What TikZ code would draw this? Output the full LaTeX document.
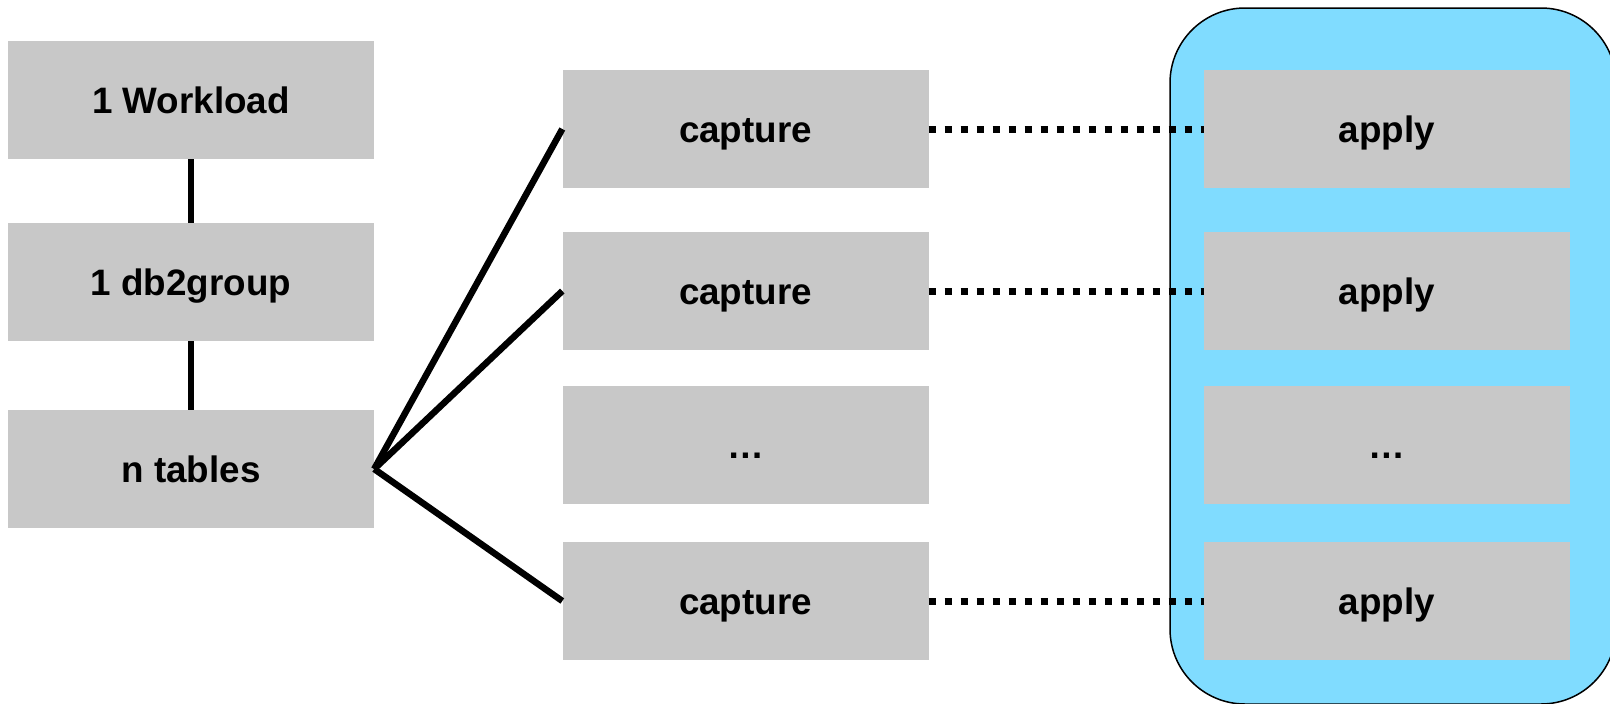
\documentclass[tikz,border=0pt]{standalone}
\usepackage{fontspec}
\setmainfont{Liberation Sans}
\usepackage{xcolor}
\usetikzlibrary{positioning}

\definecolor{boxgray}{HTML}{C8C8C8}
\definecolor{poolblue}{HTML}{80DCFF}

\tikzset{
  graybox/.style={fill=boxgray, minimum width=366pt, minimum height=118pt, inner sep=0pt,
    text height=26pt, text depth=0pt,
    font=\fontsize{36.8}{44}\selectfont\bfseries},
  solidlink/.style={line width=6.5pt},
  dotlink/.style={line width=7pt, dash pattern=on 7pt off 9pt}
}

\begin{document}
\begin{tikzpicture}[x=1pt, y=-1pt]
    \useasboundingbox (0,0) rectangle (1610,704);

    % Apply pool
    \draw[fill=poolblue, line width=1.5pt, rounded corners=75pt] (1170,8) rectangle (1616,704);

    % Left column
    \node[graybox] (work) at (191,100) {1 Workload};
    \node[graybox] (group) at (191,282) {1 db2group};
    \node[graybox] (tables) at (191,469) {n tables};

    % Capture column
    \node[graybox] (cap1) at (745.5,129) {capture};
    \node[graybox] (cap2) at (745.5,291) {capture};
    \node[graybox] (capdots) at (745.5,445) {\dots};
    \node[graybox] (cap4) at (745.5,601) {capture};

    % Apply column
    \node[graybox] (app1) at (1387,129) {apply};
    \node[graybox] (app2) at (1387,291) {apply};
    \node[graybox] (appdots) at (1387,445) {\dots};
    \node[graybox] (app4) at (1387,601) {apply};

    % Links
    \draw[solidlink] (work.south) -- (group.north);
    \draw[solidlink] (group.south) -- (tables.north);
    \draw[solidlink] (tables.east) -- (cap1.west);
    \draw[solidlink] (tables.east) -- (cap2.west);
    \draw[solidlink] (tables.east) -- (cap4.west);

    \draw[dotlink] (cap1.east) -- (app1.west);
    \draw[dotlink] (cap2.east) -- (app2.west);
    \draw[dotlink] (cap4.east) -- (app4.west);
\end{tikzpicture}
\end{document}
